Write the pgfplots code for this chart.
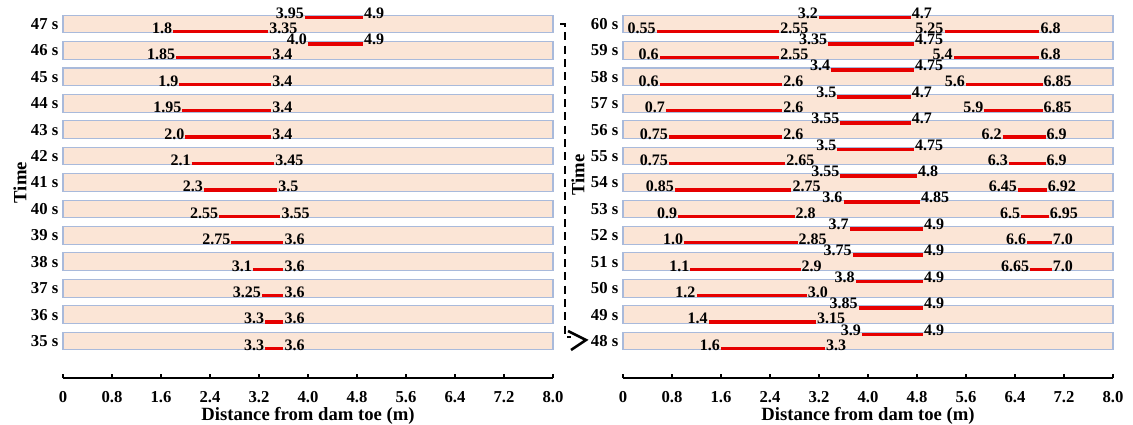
\documentclass[border=0pt]{standalone}
\usepackage{fontspec}
\setmainfont{Liberation Serif}
\usepackage{pgfplots}
\usepackage{pgfplotstable}
\pgfplotsset{compat=1.18}
\definecolor{peach}{HTML}{FBE5D6}
\definecolor{rowborder}{HTML}{A9BADB}
\definecolor{segred}{HTML}{E60000}
\newcommand\labfont{\fontsize{12}{13}\selectfont\bfseries}
\newcommand\tickfont{\fontsize{12.5}{14}\selectfont\bfseries}
\newcommand\axlabfont{\fontsize{14}{16}\selectfont\bfseries}

% left panel: t = time - 35 s
\pgfplotstableread{
t lo hi
0 3.3 3.6
1 3.3 3.6
2 3.25 3.6
3 3.1 3.6
4 2.75 3.6
5 2.55 3.55
6 2.3 3.5
7 2.1 3.45
8 2.0 3.4
9 1.95 3.4
10 1.9 3.4
11 1.85 3.4
12 1.8 3.35
}\leftLower
\pgfplotstableread{
t lo hi
11 4.0 4.9
12 3.95 4.9
}\leftUpper
% right panel: t = time - 48 s
\pgfplotstableread{
t lo hi
0 1.6 3.3
1 1.4 3.15
2 1.2 3.0
3 1.1 2.9
4 1.0 2.85
5 0.9 2.8
6 0.85 2.75
7 0.75 2.65
8 0.75 2.6
9 0.7 2.6
10 0.6 2.6
11 0.6 2.55
12 0.55 2.55
3 6.65 7.0
4 6.6 7.0
5 6.5 6.95
6 6.45 6.92
7 6.3 6.9
8 6.2 6.9
9 5.9 6.85
10 5.6 6.85
11 5.4 6.8
12 5.25 6.8
}\rightLower
\pgfplotstableread{
t lo hi
0 3.9 4.9
1 3.85 4.9
2 3.8 4.9
3 3.75 4.9
4 3.7 4.9
5 3.6 4.85
6 3.55 4.8
7 3.5 4.75
8 3.55 4.7
9 3.5 4.7
10 3.4 4.75
11 3.35 4.75
12 3.2 4.7
}\rightUpper

\pgfplotsset{
  panel/.style={
    scale only axis, width=367.5pt, height=275.4pt,
    xmin=0, xmax=8, ymin=-1.4, ymax=12.5, clip=false,
    axis x line*=bottom, axis y line*=left,
    y axis line style={draw=none}, ytick style={draw=none},
    x axis line style={line width=0.9pt},
    xtick={0,0.8,1.6,2.4,3.2,4,4.8,5.6,6.4,7.2,8},
    xticklabels={0,0.8,1.6,2.4,3.2,4.0,4.8,5.6,6.4,7.2,8.0},
    ytick={0,...,12},
    xtick align=inside, major tick length=3pt,
    xtick style={black, line width=0.8pt},
    tick label style={font=\tickfont},
    xticklabel style={yshift=-6.5pt},
    label style={font=\axlabfont},
    xlabel style={yshift=3pt},
    xlabel={Distance from dam toe (m)},
    ylabel={Time},
  },
  rows/.style={xbar, bar width=0.67, fill=peach, draw=rowborder, line width=0.8pt, forget plot},
  seg/.style={draw=none, mark=none, forget plot,
    error bars/.cd, x dir=plus, x explicit, error mark=none,
    error bar style={line width=#1, draw=segred}},
  lab/.style 2 args={draw=none, mark=none, forget plot, nodes near coords,
    point meta=explicit symbolic,
    every node near coord/.append style={anchor=#1, inner sep=0.6pt, text=black, font=\labfont, yshift=#2}},
}

\begin{document}
\begin{tikzpicture}
\useasboundingbox (0,0) rectangle (849.75pt,-318.75pt);
% ---------------- left panel ----------------
\begin{axis}[panel, at={(47.25pt,-283.5pt)}, anchor=south west,
  yticklabels={35 s,36 s,37 s,38 s,39 s,40 s,41 s,42 s,43 s,44 s,45 s,46 s,47 s},
  ylabel style={at={(axis description cs:-0.088,0.532)}, anchor=center}]
\addplot[rows] coordinates {(8,0) (8,1) (8,2) (8,3) (8,4) (8,5) (8,6) (8,7) (8,8) (8,9) (8,10) (8,11) (8,12)};
\addplot[seg=2.4pt] table[x=lo, y expr=\thisrow{t}-0.28, x error expr=\thisrow{hi}-\thisrow{lo}] {\leftLower};
\addplot[lab={base east}{-1.5pt}] table[x=lo, y expr=\thisrow{t}-0.28, meta=lo] {\leftLower};
\addplot[lab={base west}{-1.5pt}] table[x=hi, y expr=\thisrow{t}-0.28, meta=hi] {\leftLower};
\addplot[seg=2.8pt] table[x=lo, y expr=\thisrow{t}+0.25, x error expr=\thisrow{hi}-\thisrow{lo}] {\leftUpper};
\addplot[lab={base east}{-0.5pt}] table[x=lo, y expr=\thisrow{t}+0.25, meta=lo] {\leftUpper};
\addplot[lab={base west}{-0.5pt}] table[x=hi, y expr=\thisrow{t}+0.25, meta=hi] {\leftUpper};
\end{axis}
% ---------------- right panel ----------------
\begin{axis}[panel, at={(467.25pt,-283.5pt)}, anchor=south west,
  yticklabels={48 s,49 s,50 s,51 s,52 s,53 s,54 s,55 s,56 s,57 s,58 s,59 s,60 s},
  ylabel style={at={(axis description cs:-0.092,0.553)}, anchor=center}]
\addplot[rows] coordinates {(8,0) (8,1) (8,2) (8,3) (8,4) (8,5) (8,6) (8,7) (8,8) (8,9) (8,10) (8,11) (8,12)};
\addplot[seg=2.4pt] table[x=lo, y expr=\thisrow{t}-0.28, x error expr=\thisrow{hi}-\thisrow{lo}] {\rightLower};
\addplot[lab={base east}{-1.5pt}] table[x=lo, y expr=\thisrow{t}-0.28, meta=lo] {\rightLower};
\addplot[lab={base west}{-1.5pt}] table[x=hi, y expr=\thisrow{t}-0.28, meta=hi] {\rightLower};
\addplot[seg=2.8pt] table[x=lo, y expr=\thisrow{t}+0.25, x error expr=\thisrow{hi}-\thisrow{lo}] {\rightUpper};
\addplot[lab={base east}{-0.5pt}] table[x=lo, y expr=\thisrow{t}+0.25, meta=lo] {\rightUpper};
\addplot[lab={base west}{-0.5pt}] table[x=hi, y expr=\thisrow{t}+0.25, meta=hi] {\rightUpper};
\end{axis}
% ---------------- connector ----------------
\begin{scope}[x=0.75pt, y=-0.75pt]
\draw[line width=1.6pt, dash pattern=on 6pt off 4pt] (560,24) -- (565,24) -- (565,337) -- (571,337);
\draw[line width=1.9pt] (568,331) -- (586,340) -- (571,350);
\end{scope}
\end{tikzpicture}
\end{document}
